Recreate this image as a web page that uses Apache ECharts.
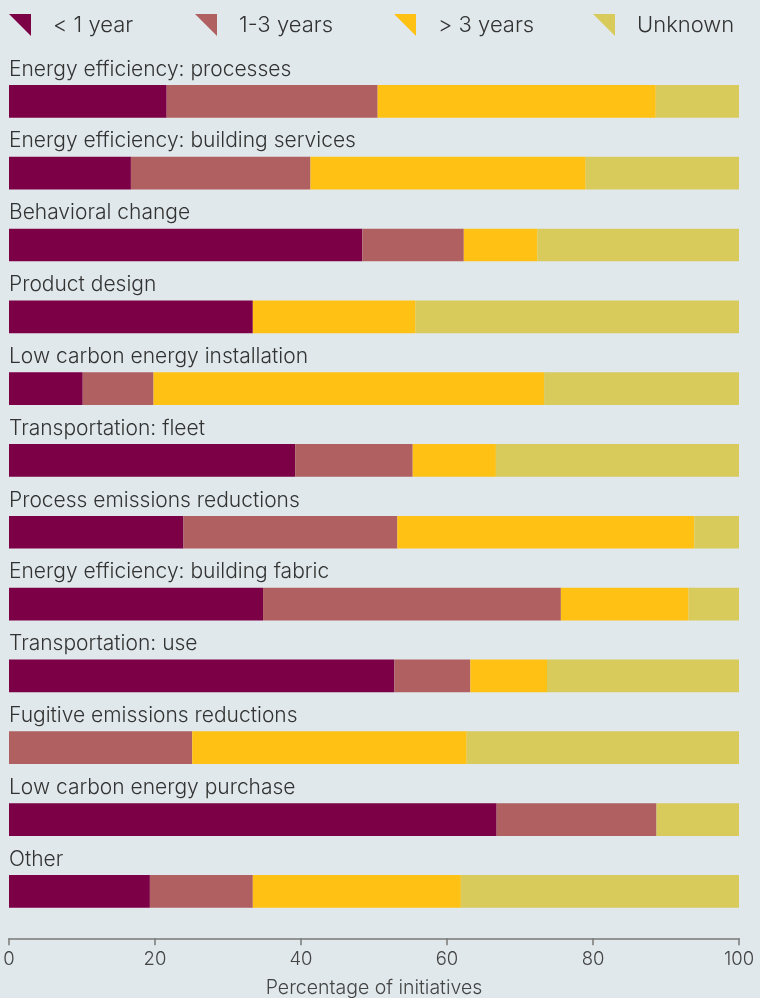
<!DOCTYPE html>
<html>
<head>
<meta charset="utf-8">
<script src="https://cdn.jsdelivr.net/npm/echarts@6/dist/echarts.min.js"></script>
<style>
html,body{margin:0;padding:0;background:#e0e8eb;}
#chart{width:760px;height:998px;}
</style>
</head>
<body>
<div id="chart"></div>
<script>
const categories = [
  "Energy efficiency: processes",
  "Energy efficiency: building services",
  "Behavioral change",
  "Product design",
  "Low carbon energy installation",
  "Transportation: fleet",
  "Process emissions reductions",
  "Energy efficiency: building fabric",
  "Transportation: use",
  "Fugitive emissions reductions",
  "Low carbon energy purchase",
  "Other"
];
const seriesNames = ["< 1 year", "1-3 years", "> 3 years", "Unknown"];
const lessThan1 = [21.6, 16.7, 48.4, 33.4, 10.1, 39.2, 23.9, 34.8, 52.8, 0, 66.8, 19.3];
const oneToThree = [28.9, 24.6, 13.9, 0, 9.7, 16.1, 29.3, 40.8, 10.4, 25.1, 21.9, 14.1];
const moreThan3 = [38.1, 37.7, 10.1, 22.3, 53.5, 11.4, 40.7, 17.5, 10.5, 37.6, 0, 28.5];
const unknown = [11.4, 21.0, 27.6, 44.3, 26.7, 33.3, 6.1, 6.9, 26.3, 37.3, 11.3, 38.1];
const xTicks = [0, 20, 40, 60, 80, 100];

const colors = ["#7b0046", "#b06060", "#ffc214", "#d8cb5c"];
const values = [lessThan1, oneToThree, moreThan3, unknown];
const FONT = "Inter, 'Liberation Sans', Arial, sans-serif";
const legendLefts = [9, 195, 394, 593];

const chart = echarts.init(document.getElementById('chart'), null, {renderer: 'canvas'});
const option = {
  backgroundColor: '#e0e8eb',
  animation: false,
  legend: seriesNames.map((n, i) => ({
    data: [n],
    left: legendLefts[i],
    top: 14,
    padding: 0,
    itemWidth: 22,
    itemHeight: 22,
    icon: 'path://M0,0L10,0L10,10Z',
    textStyle: {fontFamily: FONT, fontWeight: 300, fontSize: 22, color: '#333', padding: [0, 0, 0, 17]}
  })),
  grid: {left: 9, right: 21, top: 65.45, bottom: 70.75, containLabel: false, outerBoundsMode: 'none'},
  xAxis: {
    type: 'value',
    min: 0, max: 100, interval: 20,
    offset: 11,
    splitLine: {show: false},
    axisLine: {show: true, lineStyle: {color: '#7a7a7a', width: 1.5}},
    axisTick: {show: true, length: 7, lineStyle: {color: '#7a7a7a', width: 1.5}},
    axisLabel: {
      margin: 12,
      fontFamily: FONT, fontWeight: 300, fontSize: 18.5, color: '#444',
      formatter: v => xTicks.includes(v) ? String(v) : ''
    },
    name: 'Percentage of initiatives',
    nameLocation: 'middle',
    nameGap: 40,
    nameTextStyle: {fontFamily: FONT, fontWeight: 300, fontSize: 19.5, color: '#444'}
  },
  yAxis: {
    type: 'category',
    data: categories,
    inverse: true,
    axisLine: {show: false},
    axisTick: {show: false},
    splitLine: {show: false},
    axisLabel: {
      inside: true,
      margin: 0,
      align: 'left',
      verticalAlign: 'bottom',
      lineHeight: 24,
      padding: [0, 0, 20, 0],
      fontFamily: FONT, fontWeight: 300, fontSize: 21, color: '#333'
    },
    z: 10
  },
  series: seriesNames.map((n, i) => ({
    name: n,
    type: 'bar',
    stack: 'total',
    barWidth: 32.7,
    data: values[i],
    itemStyle: {color: colors[i]},
    emphasis: {disabled: true}
  }))
};
chart.setOption(option);
</script>
</body>
</html>
